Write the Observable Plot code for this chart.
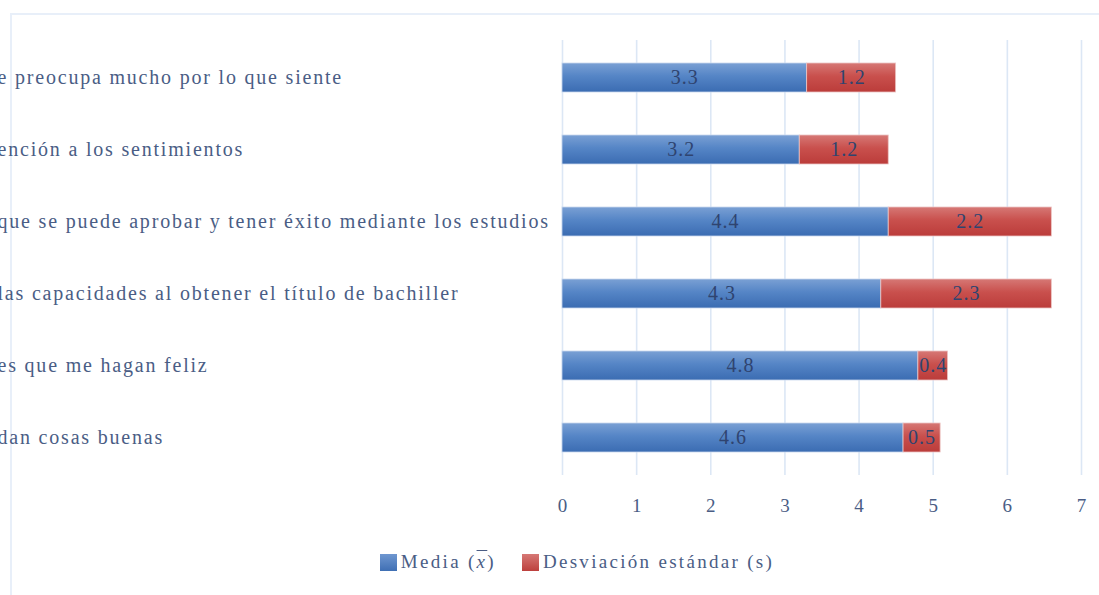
<!DOCTYPE html>
<html>
<head>
<meta charset="utf-8">
<script src="https://cdn.jsdelivr.net/npm/d3@7"></script>
<script src="https://cdn.jsdelivr.net/npm/@observablehq/plot@0.6"></script>
<style>
  html, body { margin: 0; padding: 0; background: #fff; }
  #wrap { position: relative; width: 1099px; height: 595px; overflow: hidden; background: #fff; }
  #frame { position: absolute; left: 10px; top: 13px; right: -5px; bottom: -5px;
           border-top: 2px solid #e8eff9; border-left: 2px solid #e8eff9; }
  #chart { position: absolute; left: 0; top: 0; }
  #legend { position: absolute; top: 551px; left: 0; width: 1099px; display: flex; justify-content: center;
            font-family: "Liberation Serif", serif; font-size: 19px; color: #4a5d85; padding-left: 55px; box-sizing: border-box; letter-spacing: 2.3px; }
  .item { display: flex; align-items: center; margin: 0 13px; }
  .sw { width: 17px; height: 17px; margin-right: 4px; }
  .ov { text-decoration: overline; font-style: italic; }
</style>
</head>
<body>
<div id="wrap">
  <div id="frame"></div>
  <div id="chart"></div>
  <div id="legend"></div>
</div>
<script>
const labels = [
  "e preocupa mucho por lo que siente",
  "ención a los sentimientos",
  "que se puede aprobar y tener éxito mediante los estudios",
  "las capacidades al obtener el título de bachiller",
  "es que me hagan feliz",
  "dan cosas buenas"
];
const media = [3.3, 3.2, 4.4, 4.3, 4.8, 4.6];
const desviacion = [1.2, 1.2, 2.2, 2.3, 0.4, 0.5];
const xTicks = [0, 1, 2, 3, 4, 5, 6, 7];
const seriesNames = ["Media", "Desviación estándar (s)"];

const rows = labels.map((label, i) => ({label, mean: media[i], sd: desviacion[i]}));

const textColor = "#4a5d85";
const valueColor = "#2f4470";

function gradients() {
  const ns = "http://www.w3.org/2000/svg";
  const defs = document.createElementNS(ns, "defs");
  defs.innerHTML = `
    <linearGradient id="gBlue" x1="0" y1="0" x2="0" y2="1">
      <stop offset="0" stop-color="#7aa0d4"/>
      <stop offset="0.45" stop-color="#5585c6"/>
      <stop offset="1" stop-color="#3b6cb2"/>
    </linearGradient>
    <linearGradient id="gRed" x1="0" y1="0" x2="0" y2="1">
      <stop offset="0" stop-color="#d67875"/>
      <stop offset="0.45" stop-color="#c9504d"/>
      <stop offset="1" stop-color="#bb3c3a"/>
    </linearGradient>`;
  return defs;
}

const plot = Plot.plot({
  width: 1099,
  height: 530,
  marginLeft: 562,
  marginRight: 18,
  marginTop: 40,
  marginBottom: 55,
  style: {fontFamily: "'Liberation Serif', serif", fontSize: "19px", color: textColor, background: "transparent", overflow: "hidden"},
  x: {domain: [0, 7]},
  y: {domain: labels, paddingInner: 0.6, paddingOuter: 0.3, axis: null},
  marks: [
    gradients,
    Plot.gridX(xTicks, {stroke: "#dce7f5", strokeOpacity: 1, strokeWidth: 1.6}),
    Plot.axisX({ticks: xTicks, tickFormat: d3.format("d"), tickSize: 0, tickPadding: 23, label: null, fill: textColor, fontSize: 19}),
    Plot.barX(rows, {y: "label", x1: 0, x2: "mean", fill: "url(#gBlue)", stroke: "#c9d8ee", strokeWidth: 0.8}),
    Plot.barX(rows, {y: "label", x1: "mean", x2: d => d.mean + d.sd, fill: "url(#gRed)", stroke: "#ecc4c3", strokeWidth: 0.8}),
    Plot.text(rows, {y: "label", x: d => d.mean / 2, text: d => d.mean.toFixed(1), fill: valueColor, fontSize: 20}),
    Plot.text(rows, {y: "label", x: d => d.mean + d.sd / 2, text: d => d.sd.toFixed(1), fill: valueColor, fontSize: 20}),
    Plot.text(rows, {y: "label", text: "label", frameAnchor: "left", dx: -565, textAnchor: "start", fill: textColor, fontSize: 20})
  ]
});
const textGroups = plot.querySelectorAll('g[aria-label="text"]');
if (textGroups.length >= 3) {
  textGroups[0].style.letterSpacing = "1px";
  textGroups[1].style.letterSpacing = "1px";
  textGroups[2].style.letterSpacing = "1.8px";
}
document.getElementById("chart").appendChild(plot);

document.getElementById("legend").innerHTML = `
  <div class="item"><div class="sw" style="background:linear-gradient(#6f97d0,#3f6fb4)"></div><span>${seriesNames[0]} (<span class="ov">x</span>)</span></div>
  <div class="item"><div class="sw" style="background:linear-gradient(#d67875,#bd403d)"></div><span>${seriesNames[1]}</span></div>`;
</script>
</body>
</html>
